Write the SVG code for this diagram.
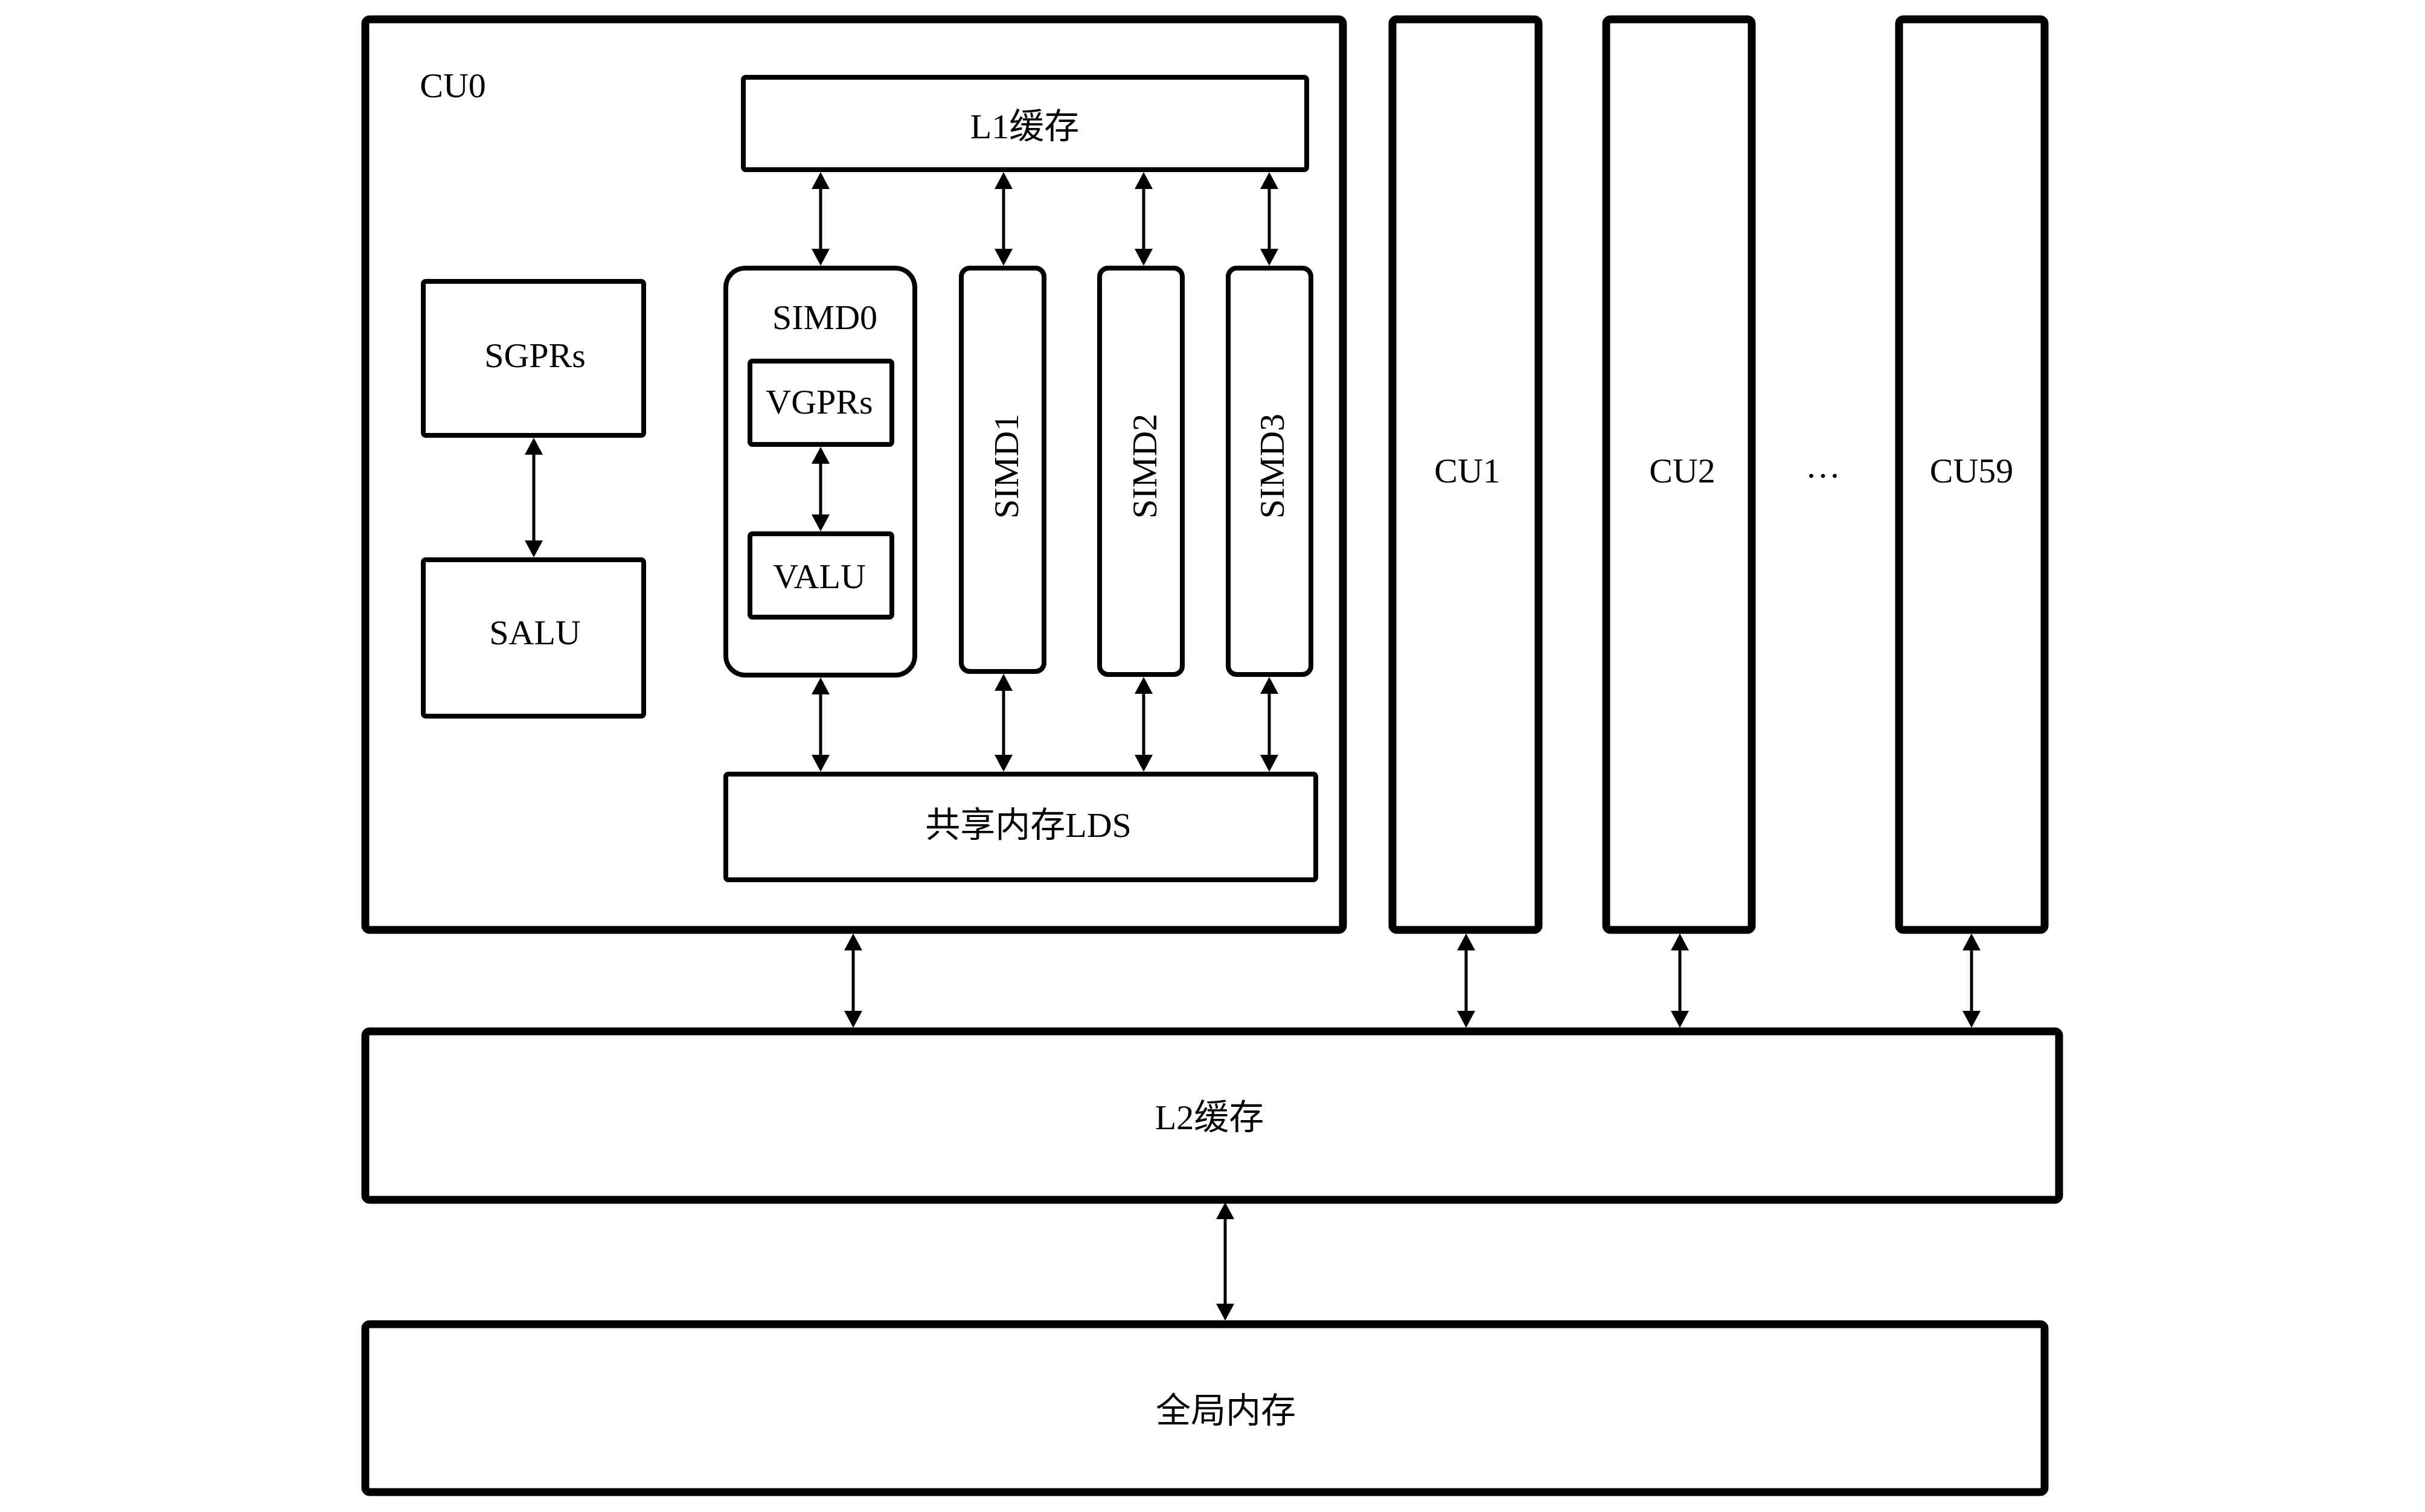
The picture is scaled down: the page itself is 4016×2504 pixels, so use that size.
<svg xmlns="http://www.w3.org/2000/svg" width="4016" height="2504" viewBox="0 0 4016 2504">
<style>
  .thick { fill: none; stroke: #000; stroke-width: 13; }
  .med { fill: none; stroke: #000; stroke-width: 8; }
  .lbl { font-family: "Liberation Serif", "Noto Sans CJK SC", serif; font-size: 58px; fill: #000; text-anchor: middle; }
  .conn line { stroke: #000; stroke-width: 5; marker-start: url(#ah); marker-end: url(#ah); }
</style>
<defs>
  <marker id="ah" markerUnits="userSpaceOnUse" markerWidth="28" markerHeight="30" refX="8" refY="15" orient="auto-start-reverse" overflow="visible">
    <path d="M0,0 L28,15 L0,30 Z" fill="#000"/>
  </marker>
</defs>
<rect width="4016" height="2504" fill="#fff"/>

<g id="cu0">
  <rect class="thick" x="605" y="32" width="1619" height="1508" rx="7"/>
  <text class="lbl" x="750" y="161">CU0</text>
</g>
<g id="l1">
  <rect class="med" x="1231" y="128" width="933" height="153" rx="4"/>
  <text class="lbl" x="1697" y="229">L1缓存</text>
</g>
<g id="sgprs">
  <rect class="med" x="701" y="466" width="365" height="255" rx="4"/>
  <text class="lbl" x="886" y="608">SGPRs</text>
</g>
<g id="salu">
  <rect class="med" x="701" y="927" width="365" height="259" rx="4"/>
  <text class="lbl" x="886" y="1067">SALU</text>
</g>
<g id="simd0">
  <rect class="med" x="1202" y="444" width="313" height="674" rx="32"/>
  <text class="lbl" x="1366" y="545">SIMD0</text>
</g>
<g id="vgprs">
  <rect class="med" x="1242" y="598" width="235" height="138" rx="4"/>
  <text class="lbl" x="1357" y="685">VGPRs</text>
</g>
<g id="valu">
  <rect class="med" x="1242" y="884" width="235" height="138" rx="4"/>
  <text class="lbl" x="1357" y="974">VALU</text>
</g>
<g id="simd1">
  <rect class="med" x="1592" y="444" width="137" height="668" rx="14"/>
  <text class="lbl" transform="translate(1666,772) rotate(-90)" x="0" y="20">SIMD1</text>
</g>
<g id="simd2">
  <rect class="med" x="1821" y="444" width="137" height="673" rx="14"/>
  <text class="lbl" transform="translate(1895,772) rotate(-90)" x="0" y="20">SIMD2</text>
</g>
<g id="simd3">
  <rect class="med" x="2034" y="444" width="137" height="673" rx="14"/>
  <text class="lbl" transform="translate(2106,772) rotate(-90)" x="0" y="20">SIMD3</text>
</g>
<g id="lds">
  <rect class="med" x="1202" y="1282" width="977" height="175" rx="4"/>
  <text class="lbl" x="1703" y="1386">共享内存LDS</text>
</g>
<g id="cu1">
  <rect class="thick" x="2306" y="32" width="242" height="1508" rx="7"/>
  <text class="lbl" x="2430" y="799">CU1</text>
</g>
<g id="cu2">
  <rect class="thick" x="2660" y="32" width="241" height="1508" rx="7"/>
  <text class="lbl" x="2786" y="799">CU2</text>
</g>
<g id="ellipsis">
  <text class="lbl" x="3019" y="791">…</text>
</g>
<g id="cu59">
  <rect class="thick" x="3145" y="32" width="241" height="1508" rx="7"/>
  <text class="lbl" x="3265" y="799">CU59</text>
</g>
<g id="l2">
  <rect class="thick" x="605" y="1708" width="2805" height="279" rx="7"/>
  <text class="lbl" x="2003" y="1870">L2缓存</text>
</g>
<g id="global">
  <rect class="thick" x="605" y="2193" width="2781" height="278" rx="7"/>
  <text class="lbl" x="2030" y="2356">全局内存</text>
</g>

<g id="connectors" class="conn">
  <line x1="1359" y1="305" x2="1359" y2="420"/>
  <line x1="1662" y1="305" x2="1662" y2="420"/>
  <line x1="1894" y1="305" x2="1894" y2="420"/>
  <line x1="2102" y1="305" x2="2102" y2="420"/>
  <line x1="1359" y1="1142" x2="1359" y2="1258"/>
  <line x1="1662" y1="1136" x2="1662" y2="1258"/>
  <line x1="1894" y1="1141" x2="1894" y2="1258"/>
  <line x1="2102" y1="1141" x2="2102" y2="1258"/>
  <line x1="884" y1="745" x2="884" y2="903"/>
  <line x1="1359" y1="760" x2="1359" y2="860"/>
  <line x1="1413" y1="1566" x2="1413" y2="1682"/>
  <line x1="2428" y1="1566" x2="2428" y2="1682"/>
  <line x1="2782" y1="1566" x2="2782" y2="1682"/>
  <line x1="3265" y1="1566" x2="3265" y2="1682"/>
  <line x1="2029" y1="2011" x2="2029" y2="2167"/>
</g>
</svg>
